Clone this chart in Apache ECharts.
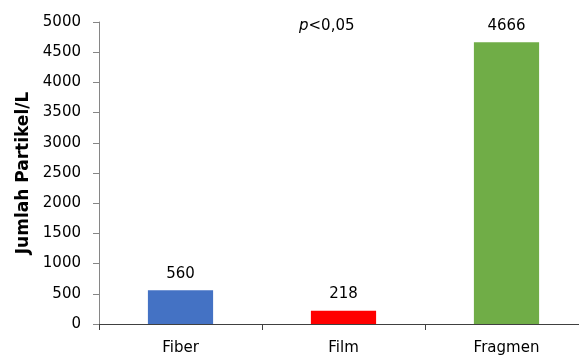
<!DOCTYPE html>
<html><head><meta charset="utf-8">
<script src="https://cdn.jsdelivr.net/npm/echarts@6/dist/echarts.min.js"></script>
<style>html,body{margin:0;padding:0;background:#fff;overflow:hidden;width:579px;height:356px}#c{width:588px;height:356px}</style>
</head><body><div id="c"></div>
<script>
const categories = ['Fiber', 'Film', 'Fragmen'];
const values = [560, 218, 4666];
const colors = ['#4472C4', '#FF0000', '#70AD47'];
const yTicks = [0, 500, 1000, 1500, 2000, 2500, 3000, 3500, 4000, 4500, 5000];
const yTitle = 'Jumlah Partikel/L';
const font = 'DejaVu Sans, Verdana, sans-serif';

const chart = echarts.init(document.getElementById('c'), null, {renderer: 'canvas'});
chart.setOption({
  animation: false,
  grid: {left: 99, top: 22, bottom: 28, right: 0, containLabel: false},
  xAxis: {
    type: 'category', data: categories,
    axisLine: {lineStyle: {color: '#404040', width: 1}},
    axisTick: {show: true, length: 6, lineStyle: {color: '#404040'}},
    axisLabel: {color: '#000', fontFamily: font, fontSize: 15, margin: 17}
  },
  yAxis: {
    type: 'value', min: yTicks[0], max: yTicks[yTicks.length - 1], interval: 500,
    name: yTitle, nameLocation: 'middle', nameGap: 65,
    nameTextStyle: {fontFamily: font, fontSize: 17, fontWeight: 'bold', color: '#000'},
    axisLine: {show: true, lineStyle: {color: '#868686'}},
    axisTick: {show: true, length: 6, lineStyle: {color: '#868686'}},
    splitLine: {show: false},
    axisLabel: {color: '#000', fontFamily: font, fontSize: 15, margin: 18, formatter: v => String(v)}
  },
  series: [{
    type: 'bar', barWidth: '40%',
    data: values.map((v, i) => ({value: v, itemStyle: {color: colors[i]}})),
    label: {show: true, position: 'top', distance: 9, color: '#000', fontFamily: font, fontSize: 15}
  }],
  graphic: [{
    type: 'text', left: 299, top: 19,
    style: {
      text: '{i|p}<0,05',
      rich: {i: {fontStyle: 'italic', fontFamily: font, fontSize: 15, fill: '#000'}},
      fontFamily: font, fontSize: 15, fill: '#000'
    }
  }]
});
</script></body></html>
